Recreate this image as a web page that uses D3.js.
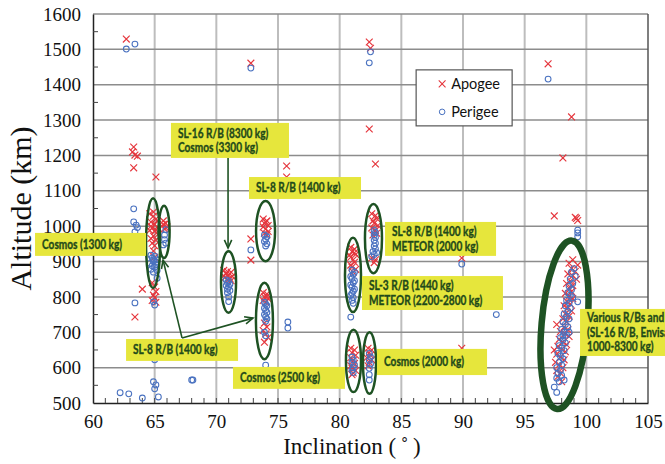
<!DOCTYPE html>
<html><head><meta charset="utf-8">
<script src="https://cdn.jsdelivr.net/npm/d3@7"></script>
<style>body{margin:0;background:#fff}svg{display:block}</style>
</head><body><svg id="c" width="665" height="464"></svg>
<script>
// ---------- data ----------
const xTicks = [60,65,70,75,80,85,90,95,100,105];
const yTicks = [500,600,700,800,900,1000,1100,1200,1300,1400,1500,1600];
const seriesNames = ["Apogee","Perigee"];

// Apogee [inclination, altitude]
const apogee = [
 [62.7,1529],[72.8,1461],[82.4,1521],[82.5,1503],[82.4,1275],[82.9,1176],[96.9,1459],[98.8,1309],[98.1,1193],
 [63.3,1224],[63.2,1210],[63.4,1201],[63.6,1198],[63.3,1165],[65.1,1139],[75.7,1170],[75.7,1139],
 [97.4,1029],[99.2,1022],[99.3,1016],[99.1,1025],[89.9,910],[89.9,655],[64.0,822],[63.4,743],[72.8,964],[72.8,904],
 // 65
 [64.6,1035],[64.9,1028],[65.1,1020],[64.7,1012],[65.0,1005],[65.2,998],[64.8,995],[64.6,988],[65.0,985],[65.3,978],
 [64.9,972],[64.7,965],[65.1,960],[64.8,952],[65.0,945],[64.9,1040],[65.2,1015],[64.7,1000],[65.1,990],[64.9,930],
 [65.0,912],[64.8,840],[65.0,828],[65.1,815],[64.9,805],[65.0,798],[64.8,790],[65.1,785],
 // 66
 [65.7,1015],[65.9,1008],[65.6,1000],[66.0,998],[65.8,992],[65.7,1005],[65.9,995],
 // 71
 [70.6,875],[70.9,872],[71.2,870],[70.8,865],[71.0,862],[71.3,858],[70.7,855],[71.1,852],[70.9,848],[70.6,860],[71.2,846],
 // 74 upper
 [73.8,1020],[74.1,1015],[73.9,1008],[74.2,1002],[73.8,998],[74.0,992],[74.2,985],[73.9,980],[74.1,976],[74.0,1012],
 // 74 lower
 [73.8,812],[74.1,808],[73.9,800],[74.2,795],[73.8,790],[74.0,785],[74.1,802],[73.9,726],[74.1,715],[73.8,705],[74.0,695],[74.2,685],[73.9,672],
 // 81
 [80.9,940],[81.2,935],[81.0,928],[81.3,920],[80.9,912],[81.1,905],[81.2,898],[80.9,890],[81.0,884],[81.3,878],[81.1,870],[80.8,918],[81.2,925],
 // 83
 [82.6,1035],[82.9,1030],[83.0,1022],[82.7,1015],[82.8,1008],[83.1,1002],[82.6,995],[82.9,988],[83.0,980],[82.7,975],[82.6,910],[82.9,905],[82.8,897],
 // 81 lower
 [80.9,655],[81.2,650],[81.0,642],[81.3,635],[80.9,628],[81.1,620],[81.2,612],[80.9,605],[81.0,598],[81.3,592],[81.1,585],[81.0,580],
 // 82.5 lower
 [82.3,655],[82.6,650],[82.4,642],[82.5,635],[82.2,628],[82.6,622],[82.4,615],[82.3,605],
 // 98
 [98.9,905],[99.3,890],[98.6,895],[98.8,880],[99.1,872],[98.5,865],[98.9,860],[99.2,850],[98.7,845],[98.4,838],
 [98.9,832],[98.6,825],[98.8,815],[98.3,810],[98.6,802],[98.9,795],[98.4,788],[98.7,780],[98.2,775],[98.5,768],
 [98.8,760],[98.3,752],[98.6,745],[98.1,738],[98.4,730],[97.6,722],[98.2,715],[98.5,708],[97.9,702],[98.3,695],
 [98.6,688],[97.8,680],[98.1,672],[98.4,665],[97.7,660],[98.0,652],[98.3,645],[97.6,638],[97.9,630],[98.2,622],
 [97.5,615],[97.8,608],[98.1,600],[97.6,592],[97.9,585],[97.7,575],[98.0,560],[97.4,650]
];

// Perigee [inclination, altitude]
const perigee = [
 [62.7,1501],[63.4,1515],[72.8,1447],[82.5,1493],[82.4,1462],[96.9,1416],[99.3,989],[99.3,981],[99.3,970],
 [89.9,893],[92.7,750],[63.3,1049],[63.3,1012],[63.5,1003],[63.6,996],[63.4,984],[63.4,783],[65.2,853],[72.8,933],
 [75.8,729],[75.8,712],[74.0,607],[80.9,743],[65.0,622],[64.9,560],[65.1,551],[65.0,540],[62.2,529],[62.9,526],
 [64.0,514],[65.3,517],[68.0,565],[68.1,565],[99.3,786],
 // 65
 [64.7,918],[65.0,915],[64.8,910],[65.2,905],[64.9,900],[64.6,895],[65.1,892],[64.8,888],[65.0,884],[64.7,878],
 [65.2,875],[64.9,870],[65.1,898],[64.9,786],[65.0,777],[64.9,905],
 // 66
 [65.9,990],[65.8,975],[65.8,962],[65.9,952],[65.7,947],
 // 71
 [70.8,848],[71.0,845],[70.9,840],[71.1,836],[70.8,832],[71.0,828],[70.9,822],[71.1,818],[70.9,812],[71.0,800],[71.0,787],
 // 74 upper
 [73.9,975],[74.1,970],[74.0,963],[73.9,957],[74.1,950],[74.0,944],
 // 74 lower
 [73.9,785],[74.0,780],[74.1,775],[73.9,768],[74.0,762],[74.1,756],[73.9,750],[74.0,744],[74.1,738],[74.0,731],[73.9,700],[74.0,690],
 // 81
 [81.0,876],[81.2,870],[81.1,864],[80.9,858],[81.0,852],[81.2,846],[81.1,840],[80.9,834],[81.0,828],[81.2,822],
 [81.1,816],[81.0,810],[80.9,804],[81.1,798],[81.0,790],[81.1,782],
 // 83
 [82.8,988],[82.9,982],[82.8,975],[82.9,968],[82.8,960],[82.9,952],[82.8,944],[82.9,936],[82.7,928],[82.8,920],[82.6,914],[83.0,925],
 // 81 lower
 [81.0,630],[81.1,622],[81.0,615],[81.2,608],[81.1,600],[81.0,593],[81.1,586],
 // 82.5 lower
 [82.4,640],[82.5,630],[82.4,620],[82.5,610],[82.4,598],[82.4,580],[82.4,565],
 // 98
 [99.0,880],[98.8,870],[99.1,858],[98.7,850],[98.9,838],[98.6,830],[98.8,820],[98.5,812],[98.7,805],[98.9,798],
 [98.4,790],[98.6,782],[98.3,775],[98.7,768],[98.5,760],[98.2,752],[98.4,745],[98.6,738],[98.1,730],[98.3,722],
 [98.5,715],[98.0,708],[98.2,700],[98.4,692],[97.9,685],[98.1,678],[98.3,670],[97.8,662],[98.0,655],[98.2,648],
 [97.7,640],[97.9,632],[98.1,625],[97.8,615],[98.0,607],[97.6,600],[97.9,592],[97.7,583],[98.0,578],[97.6,570],
 [97.8,560],[98.2,565],[97.4,545],[97.6,530],[98.1,690],[98.6,700]
];

// annotation groups (data coordinates)
const ellipses = [
 {inc:64.87,alt:952,dInc:0.57,dAlt:127,rot:0,w:2.5},
 {inc:65.76,alt:984,dInc:0.45,dAlt:74,rot:0,w:2.5},
 {inc:70.99,alt:842,dInc:0.61,dAlt:87,rot:0,w:2.5},
 {inc:73.99,alt:986,dInc:0.77,dAlt:85,rot:0,w:2.5},
 {inc:73.90,alt:732,dInc:0.69,dAlt:108,rot:0,w:2.5},
 {inc:81.08,alt:862,dInc:0.65,dAlt:105,rot:0,w:2.5},
 {inc:82.74,alt:965,dInc:0.69,dAlt:98,rot:0,w:2.5},
 {inc:81.12,alt:619,dInc:0.61,dAlt:88,rot:0,w:2.5},
 {inc:82.42,alt:613,dInc:0.53,dAlt:87,rot:0,w:2.5},
 {inc:98.23,alt:721,dInc:1.86,dAlt:239,rot:5,w:6.5}
];
const labels = [
 {x0:66.32,x1:75.89,a0:1292,a1:1193,lines:["SL-16 R/B (8300 kg)","Cosmos (3300 kg)"]},
 {x0:72.65,x1:81.73,a0:1139,a1:1077,lines:["SL-8 R/B (1400 kg)"]},
 {x0:55.3,x1:64.3,a0:981,a1:916,lines:["Cosmos (1300 kg)"]},
 {x0:83.68,x1:92.68,a0:1012,a1:916,lines:["SL-8 R/B (1400 kg)","METEOR (2000 kg)"]},
 {x0:81.81,x1:93.24,a0:859,a1:763,lines:["SL-3 R/B (1440 kg)","METEOR (2200-2800 kg)"]},
 {x0:99.49,x1:107.5,a0:766,a1:633,lines:["Various  R/Bs and","(SL-16 R/B, Envisat,","1000-8300 kg)"]},
 {x0:62.68,x1:71.76,a0:681,a1:619,lines:["SL-8 R/B (1400 kg)"]},
 {x0:71.35,x1:80.43,a0:602,a1:540,lines:["Cosmos (2500 kg)"]},
 {x0:83.03,x1:91.95,a0:653,a1:579,lines:["Cosmos (2000 kg)"]}
];
const arrows = [
 {from:[70.95,1193],to:[70.95,938]},
 {from:[67.22,684],to:[65.68,904]},
 {from:[67.22,684],to:[72.97,740]}
];
const legendAnchor = [86.2,1442];

// ---------- chart ----------
const W=665,H=464;
const m={l:93,t:14,r:17,b:61};
const svg=d3.select("#c");
const x=d3.scaleLinear().domain([60,105]).range([m.l,W-m.r]);
const y=d3.scaleLinear().domain([500,1600]).range([H-m.b,m.t]);
const serif='"Liberation Serif","Times New Roman",serif';
const sans='Lato,"Open Sans",sans-serif';
const ink='#1f4a1a';

// grid
svg.append("g").selectAll("line").data(xTicks.slice(1,-1)).join("line")
 .attr("x1",d=>x(d)).attr("x2",d=>x(d)).attr("y1",y(1600)).attr("y2",y(500))
 .attr("stroke","#bdbdbd").attr("stroke-width",2);
svg.append("g").selectAll("line").data(yTicks.slice(1)).join("line")
 .attr("x1",x(60)).attr("x2",x(105)).attr("y1",d=>y(d)).attr("y2",d=>y(d))
 .attr("stroke","#8c8c8c").attr("stroke-width",1.5);
svg.append("line").attr("x1",x(105)).attr("x2",x(105)).attr("y1",y(1600)).attr("y2",y(500))
 .attr("stroke","#555").attr("stroke-width",1.5);

// axes
const xAxis=d3.axisBottom(x).tickValues(xTicks).tickFormat(d3.format("d")).tickSize(0).tickPadding(12);
const gx=svg.append("g").attr("transform",`translate(0,${y(500)})`).call(xAxis)
 .attr("font-family",serif).attr("font-size",19);
gx.select(".domain").attr("stroke","#222").attr("stroke-width",1.5);
gx.selectAll("text").style("font-family",serif).attr("fill","#111");
const yAxis=d3.axisLeft(y).tickValues(yTicks).tickFormat(d3.format("d")).tickSize(0).tickPadding(12);
const gy=svg.append("g").attr("transform",`translate(${x(60)},0)`).call(yAxis)
 .attr("font-family",serif).attr("font-size",19);
gy.select(".domain").attr("stroke","#222").attr("stroke-width",1.5);
gy.selectAll("text").style("font-family",serif).attr("fill","#111");
// minor ticks inside
svg.append("g").selectAll("line").data(d3.range(61,105)).join("line")
 .attr("x1",d=>x(d)).attr("x2",d=>x(d)).attr("y1",y(500)).attr("y2",y(500)-5)
 .attr("stroke","#444").attr("stroke-width",1);
svg.append("g").selectAll("line").data(d3.range(550,1600,100)).join("line")
 .attr("x1",x(60)).attr("x2",x(60)+5).attr("y1",d=>y(d)).attr("y2",d=>y(d))
 .attr("stroke","#444").attr("stroke-width",1);

// axis titles
svg.append("text").attr("x",x(81)).attr("y",454).attr("text-anchor","middle")
 .style("font-family",serif).attr("font-size",23).attr("fill","#111").text("Inclination (\u2009\u02DA\u2009)");
svg.append("text").attr("transform",`translate(31,${(y(500)+y(1600))/2}) rotate(-90)`).attr("text-anchor","middle")
 .style("font-family",serif).attr("font-size",30).attr("fill","#111").text("Altitude (km)");

// points
const red='#e5363d', blue='#4a72c0';
const xs=3.4;
svg.append("g").selectAll("path").data(apogee).join("path")
 .attr("d",d=>{const px=x(d[0]),py=y(d[1]);return `M${px-xs},${py-xs}L${px+xs},${py+xs}M${px-xs},${py+xs}L${px+xs},${py-xs}`;})
 .attr("stroke",red).attr("stroke-width",1.15).attr("fill","none");
svg.append("g").selectAll("circle").data(perigee).join("circle")
 .attr("cx",d=>x(d[0])).attr("cy",d=>y(d[1])).attr("r",2.9)
 .attr("stroke",blue).attr("stroke-width",1.05).attr("fill","none");

// ellipses
const green='#1e5223';
svg.append("g").selectAll("ellipse").data(ellipses).join("ellipse")
 .attr("transform",d=>`translate(${x(d.inc)},${y(d.alt)}) rotate(${d.rot})`)
 .attr("rx",d=>x(d.inc+d.dInc)-x(d.inc)).attr("ry",d=>y(d.alt)-y(d.alt+d.dAlt))
 .attr("fill","none").attr("stroke",green).attr("stroke-width",d=>d.w);

// arrows
const ag=svg.append("g");
arrows.forEach(a=>{
 const x1=x(a.from[0]),y1=y(a.from[1]),x2=x(a.to[0]),y2=y(a.to[1]);
 ag.append("line").attr("x1",x1).attr("y1",y1).attr("x2",x2).attr("y2",y2).attr("stroke",green).attr("stroke-width",1.6);
 const ang=Math.atan2(y2-y1,x2-x1),L=9,s=0.42;
 ag.append("path").attr("d",`M${x2-L*Math.cos(ang-s)},${y2-L*Math.sin(ang-s)}L${x2},${y2}L${x2-L*Math.cos(ang+s)},${y2-L*Math.sin(ang+s)}`)
  .attr("fill","none").attr("stroke",green).attr("stroke-width",1.6);
});

// label boxes (Calibri-like: Lato bold, condensed horizontally)
const lblFont='Lato,"Open Sans",sans-serif', lblSize=12.6;
const probe=svg.append("text").style("font-family",lblFont).attr("font-weight",700).attr("font-size",lblSize).text("Cosmos (2000 kg)");
const squeeze=Math.min(1,80/probe.node().getComputedTextLength());
probe.remove();
const lg=svg.append("g");
labels.forEach(l=>{
 const bx=x(l.x0),by=y(l.a0),bw=x(l.x1)-x(l.x0),bh=y(l.a1)-y(l.a0);
 lg.append("rect").attr("x",bx).attr("y",by).attr("width",bw).attr("height",bh).attr("fill","#e6e63c");
 const n=l.lines.length,lh=14.5,top=by+bh/2-(n-1)*lh/2;
 l.lines.forEach((t,i)=>{
  lg.append("text").attr("transform",`translate(${bx+7},${top+i*lh}) scale(${squeeze},1)`).attr("dy","0.35em")
   .style("font-family",lblFont).attr("font-weight",700)
   .attr("font-size",lblSize).attr("fill",ink).attr("stroke",ink).attr("stroke-width",0.35).text(t);
 });
});

// legend
const leg=svg.append("g").attr("transform",`translate(${x(legendAnchor[0])},${y(legendAnchor[1])})`);
leg.append("rect").attr("width",96).attr("height",56).attr("fill","#fff").attr("stroke","#555").attr("stroke-width",1.2);
seriesNames.forEach((s,i)=>{
 const cy=14+i*28, cx=26;
 if(i===0) leg.append("path").attr("d",`M${cx-xs},${cy-xs}L${cx+xs},${cy+xs}M${cx-xs},${cy+xs}L${cx+xs},${cy-xs}`).attr("stroke",red).attr("stroke-width",1.1);
 else leg.append("circle").attr("cx",cx).attr("cy",cy).attr("r",2.8).attr("fill","none").attr("stroke",blue);
 leg.append("text").attr("x",35).attr("y",cy).attr("dy","0.35em").style("font-family",sans).attr("font-size",14.5).attr("fill","#111").text(s);
});
</script></body></html>
